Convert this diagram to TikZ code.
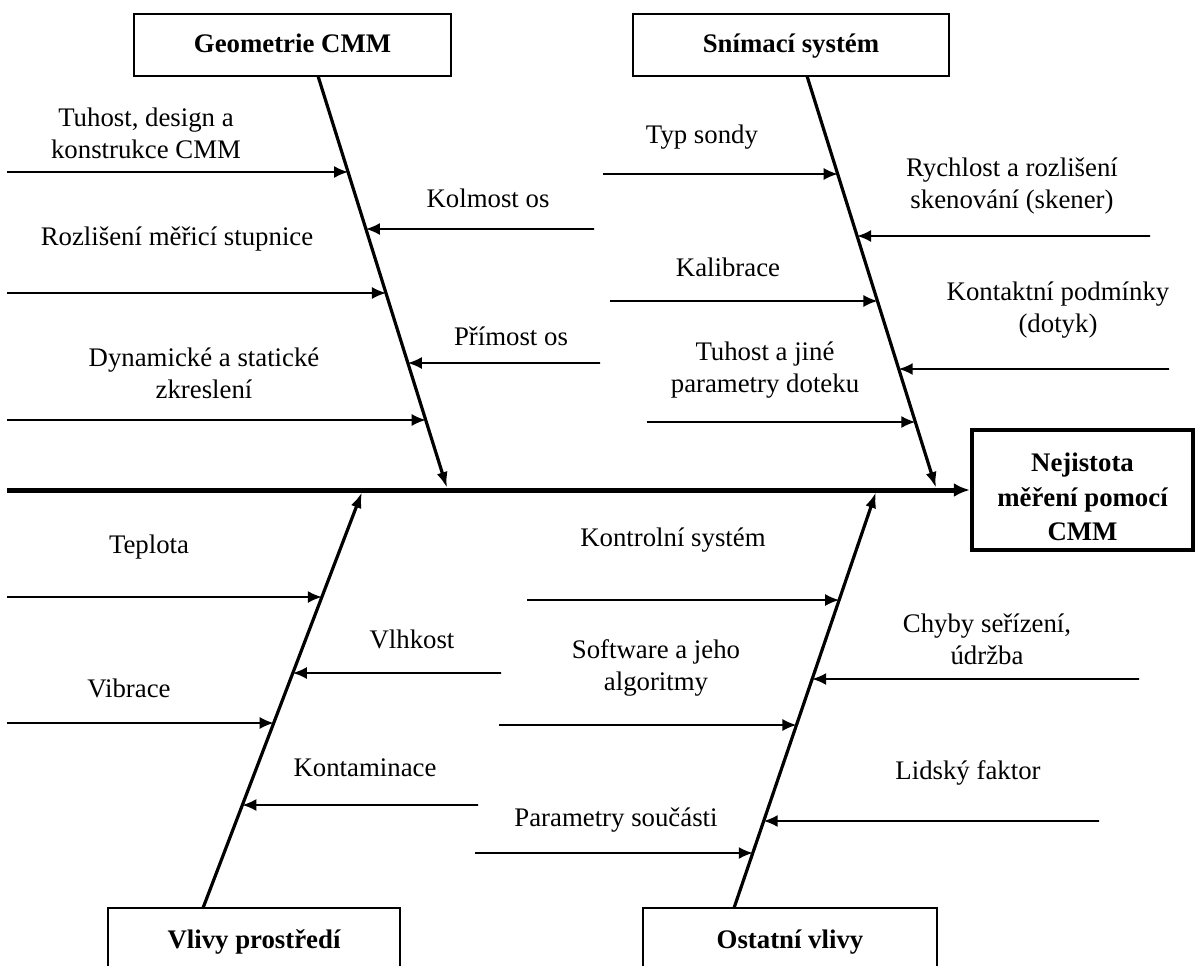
\documentclass[tikz,border=0pt]{standalone}
\usepackage{fontspec}
\setmainfont{Liberation Serif}
\usetikzlibrary{calc,arrows.meta}

\begin{document}
\begin{tikzpicture}[
    x=0.5pt, y=-0.5pt,
    cause/.style={rectangle, draw=black, fill=white, line width=1.3pt,
                  minimum height=31pt, inner sep=0pt, text height=10pt, text depth=2.5pt,
                  font=\bfseries\fontsize{13.4}{16}\selectfont},
    effect/.style={rectangle, draw=black, fill=white, line width=2.2pt,
                   minimum width=110.5pt, minimum height=60pt, align=center,
                   font=\bfseries\fontsize{13.4}{17.3}\selectfont},
    lbl/.style={align=center, inner sep=0pt, font=\fontsize{13.4}{16}\selectfont},
    spine/.style={-{Latex[length=8pt,width=5.5pt]}, line width=1.6pt},
    branch/.style={-{Latex[length=7pt,width=6pt]}, line width=0.9pt},
    mainaxis/.style={-{Latex[length=8pt,width=7pt]}, line width=2.5pt}
]
\useasboundingbox (0,0) rectangle (1195,965);

% Boxes
\node[cause, minimum width=158.5pt] (geo) at (292.5,45) {Geometrie CMM};
\node[cause, minimum width=158pt] (snim) at (791,45) {Snímací systém};
\node[cause, minimum width=146pt, minimum height=33pt] (vlivy) at (254,941) {Vlivy prostředí};
\node[cause, minimum width=147pt, minimum height=33pt] (ost) at (790,941) {Ostatní vlivy};
\node[effect] (eff) at (1082.5,490) {\rule{0pt}{16.5pt}Nejistota\\měření pomocí\\CMM};

% Main axis
\coordinate (axl) at (7,490);
\draw[mainaxis] (axl) -- (eff);

% Spines
\coordinate (g1) at (318,76);
\coordinate (g2) at (447,488);
\coordinate (s1) at (807,76);
\coordinate (s2) at (936,488);
\coordinate (v1) at (203,908);
\coordinate (v2) at (362,492);
\coordinate (o1) at (734,908);
\coordinate (o2) at (876,492);
\draw[spine] (g1) -- (g2);
\draw[spine] (s1) -- (s2);
\draw[spine] (v1) -- (v2);
\draw[spine] (o1) -- (o2);

% Geometrie CMM
\node[lbl] (tuhost) at (146,133) {Tuhost, design a\\konstrukce CMM};
\node[lbl] (kolmost) at (488,198) {Kolmost os};
\node[lbl] (rozliseni) at (177,239) {Rozlišení měřicí stupnice};
\node[lbl] (primost) at (511,336) {Přímost os};
\node[lbl] (dynamicke) at (204,373) {Dynamické a statické\\zkreslení};
\coordinate (gb1) at (7,172);
\coordinate (gb2) at (594,229);
\coordinate (gb3) at (7,293);
\coordinate (gb4) at (600,363);
\coordinate (gb5) at (7,420);
\draw[branch] (gb1) -- ($(g1)!{96/412}!(g2)$);
\draw[branch] (gb2) -- ($(g1)!{153/412}!(g2)$);
\draw[branch] (gb3) -- ($(g1)!{217/412}!(g2)$);
\draw[branch] (gb4) -- ($(g1)!{287/412}!(g2)$);
\draw[branch] (gb5) -- ($(g1)!{344/412}!(g2)$);

% Snimaci system
\node[lbl] (typ) at (702,137) {Typ sondy};
\node[lbl] (rychlost) at (1012,186) {Rychlost a rozlišení\\skenování (skener)};
\node[lbl] (kalibrace) at (728,267) {Kalibrace};
\node[lbl] (kontakt) at (1058,310) {Kontaktní podmínky\\(dotyk)};
\node[lbl] (tuhdotek) at (765,370) {Tuhost a jiné\\parametry doteku};
\coordinate (sb1) at (603,174);
\coordinate (sb2) at (1150,236);
\coordinate (sb3) at (610,301);
\coordinate (sb4) at (1169,369);
\coordinate (sb5) at (647,422);
\draw[branch] (sb1) -- ($(s1)!{98/412}!(s2)$);
\draw[branch] (sb2) -- ($(s1)!{160/412}!(s2)$);
\draw[branch] (sb3) -- ($(s1)!{225/412}!(s2)$);
\draw[branch] (sb4) -- ($(s1)!{293/412}!(s2)$);
\draw[branch] (sb5) -- ($(s1)!{346/412}!(s2)$);

% Vlivy prostredi
\node[lbl] (teplota) at (149,547) {Teplota};
\node[lbl] (vlhkost) at (412,639) {Vlhkost};
\node[lbl] (vibrace) at (129,688) {Vibrace};
\node[lbl] (kontam) at (365,768) {Kontaminace};
\coordinate (vb1) at (7,597);
\coordinate (vb2) at (501,673);
\coordinate (vb3) at (7,723);
\coordinate (vb4) at (478,805);
\draw[branch] (vb1) -- ($(v1)!{311/416}!(v2)$);
\draw[branch] (vb2) -- ($(v1)!{235/416}!(v2)$);
\draw[branch] (vb3) -- ($(v1)!{185/416}!(v2)$);
\draw[branch] (vb4) -- ($(v1)!{103/416}!(v2)$);

% Ostatni vlivy
\node[lbl] (kontrol) at (673,540) {Kontrolní systém};
\node[lbl] (chyby) at (987,639) {Chyby seřízení,\\údržba};
\node[lbl] (software) at (656,668) {Software a jeho\\algoritmy};
\node[lbl] (lidsky) at (968,773) {Lidský faktor};
\node[lbl] (param) at (616,820) {Parametry součásti};
\coordinate (ob1) at (527,600);
\coordinate (ob2) at (1139,679);
\coordinate (ob3) at (499,725);
\coordinate (ob4) at (1099,821);
\coordinate (ob5) at (475,853);
\draw[branch] (ob1) -- ($(o1)!{308/416}!(o2)$);
\draw[branch] (ob2) -- ($(o1)!{229/416}!(o2)$);
\draw[branch] (ob3) -- ($(o1)!{183/416}!(o2)$);
\draw[branch] (ob4) -- ($(o1)!{87/416}!(o2)$);
\draw[branch] (ob5) -- ($(o1)!{55/416}!(o2)$);

\end{tikzpicture}
\end{document}
